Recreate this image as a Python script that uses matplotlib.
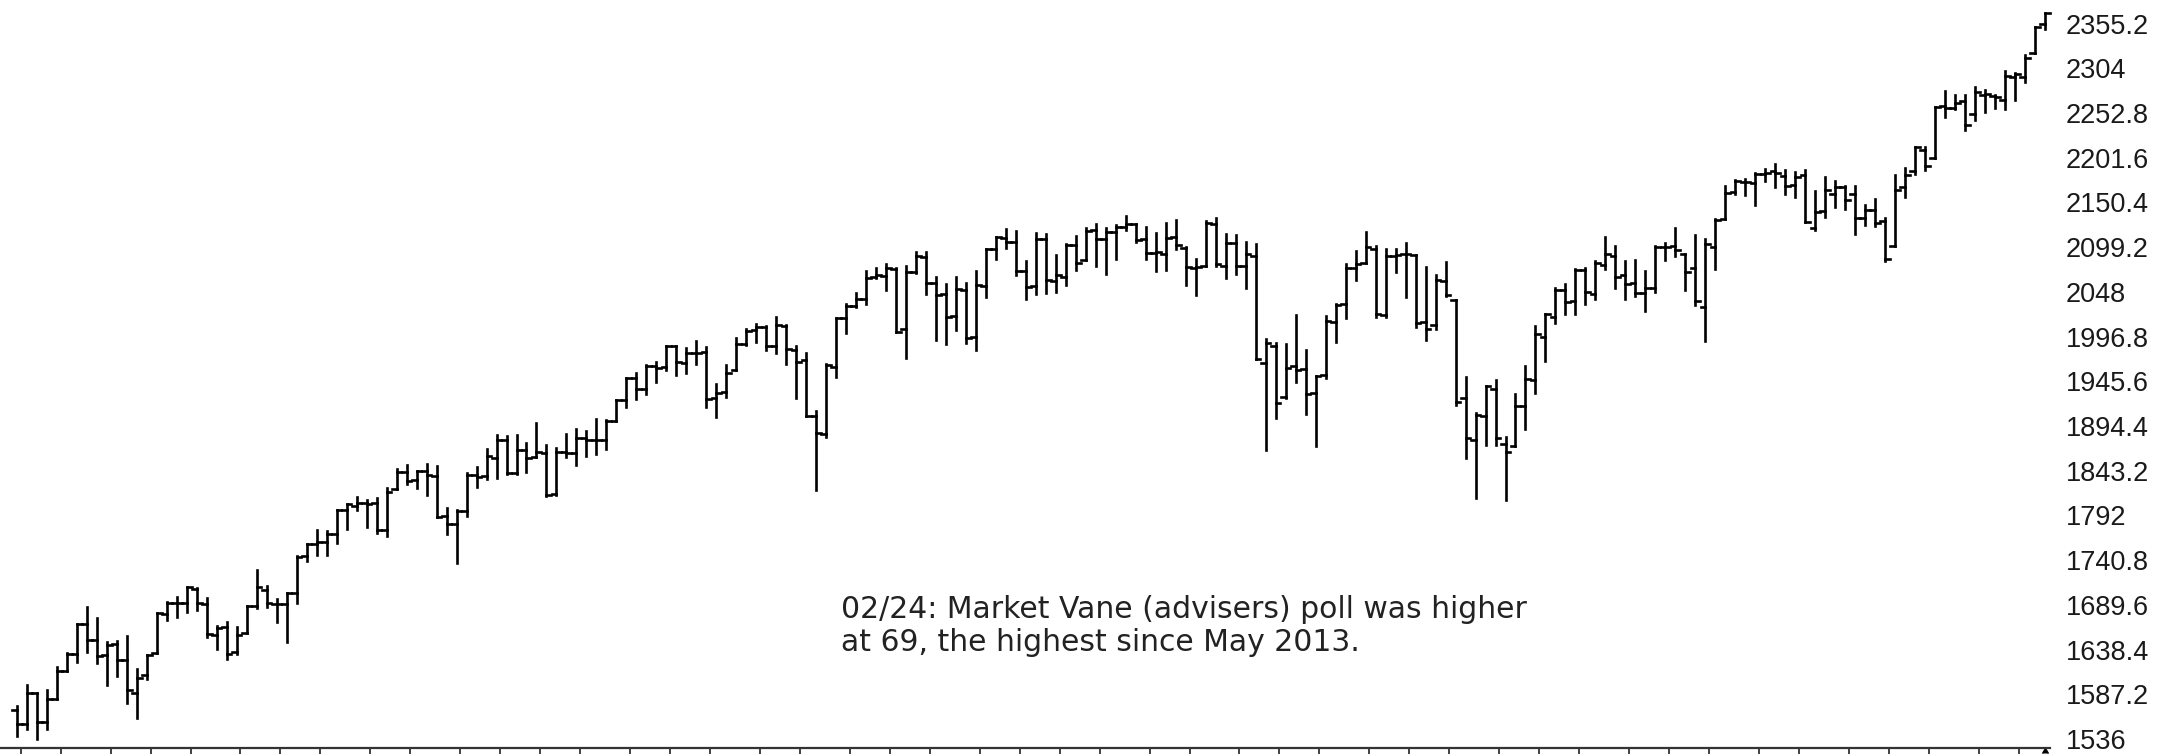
import matplotlib
matplotlib.use("Agg")
import matplotlib.pyplot as plt
from matplotlib.collections import LineCollection
import numpy as np
import pandas as pd

# Weekly S&P 500 bars (week ending Friday), first week ending 2013-04-05
start_week = "2013-04-05"
opens = [
 1569.2,1553.3,1588.8,1555.3,1582.3,1614.4,1633.7,1667.5,1649.6,1631.7,
 1644.7,1626.7,1588.8,1609.8,1634.2,1679.6,1692.1,1691.7,1708.0,1690.7,
 1655.3,1664.3,1636.0,1656.9,1688.0,1707.0,1691.0,1690.5,1703.2,1745.2,
 1759.8,1762.0,1770.6,1798.2,1803.0,1806.6,1806.0,1775.4,1822.0,1842.0,
 1832.0,1842.3,1837.0,1791.0,1782.7,1797.0,1838.6,1836.8,1857.7,1878.0,
 1841.1,1867.0,1859.0,1863.0,1816.0,1865.0,1863.0,1881.0,1878.5,1877.9,
 1900.5,1923.6,1949.4,1937.0,1962.9,1962.0,1985.4,1966.0,1978.2,1979.0,
 1926.0,1933.0,1958.0,1988.4,2004.0,2007.2,1986.0,2009.0,1981.0,1970.0,
 1905.7,1885.6,1962.0,2018.0,2032.0,2039.7,2065.0,2065.8,2074.0,2005.0,
 2071.0,2087.6,2058.0,2046.0,2020.0,2050.0,1996.7,2055.0,2097.0,2110.0,
 2105.0,2072.0,2055.0,2109.0,2060.0,2064.9,2102.0,2084.0,2119.0,2108.3,
 2116.0,2122.7,2125.3,2108.0,2092.3,2091.3,2110.6,2098.6,2075.3,2077.0,
 2126.0,2078.0,2104.0,2078.0,2089.0,1966.0,1986.0,1927.6,1963.0,1960.0,
 1932.2,1953.0,2014.0,2033.5,2075.0,2080.8,2097.0,2022.0,2089.0,2090.9,
 2090.4,2013.4,2010.3,2060.5,2038.2,1926.1,1878.9,1906.3,1936.9,1873.3,
 1871.4,1917.8,1947.0,1996.1,2019.3,2049.8,2037.9,2073.0,2045.5,2078.8,
 2089.4,2067.2,2057.6,2046.5,2052.2,2099.5,2100.0,2091.8,2075.6,2030.8,
 2099.3,2131.7,2162.0,2173.5,2173.0,2183.0,2186.0,2181.0,2170.2,2181.6,
 2120.9,2140.0,2160.0,2168.0,2160.4,2132.6,2142.0,2128.7,2100.6,2168.0,
 2186.4,2210.0,2200.7,2261.0,2259.0,2266.2,2251.6,2273.6,2272.0,2267.8,
 2294.3,2294.3,2321.7,2354.9]
highs = [
 1573.7,1597.4,1588.8,1592.6,1618.5,1635.0,1667.5,1687.2,1674.2,1646.5,
 1648.7,1654.2,1615.9,1631.9,1680.2,1693.1,1698.8,1709.9,1709.2,1697.0,
 1664.9,1669.5,1664.0,1688.0,1729.9,1711.0,1696.0,1703.3,1745.3,1759.8,
 1775.2,1774.0,1798.2,1804.8,1813.6,1810.0,1811.5,1823.8,1844.9,1849.4,
 1843.2,1850.8,1848.1,1800.0,1798.0,1840.8,1847.5,1867.9,1883.6,1883.0,
 1884.0,1875.0,1897.3,1872.5,1869.6,1884.9,1891.3,1889.0,1902.2,1901.3,
 1924.0,1949.4,1955.6,1963.9,1968.2,1985.6,1985.6,1983.5,1991.4,1984.9,
 1942.9,1964.0,1994.8,2005.0,2011.2,2008.5,2019.3,2009.5,1986.0,1977.8,
 1912.0,1965.3,2018.2,2034.3,2046.2,2071.5,2075.8,2079.5,2075.8,2077.9,
 2093.6,2093.6,2064.4,2056.9,2064.6,2057.6,2072.4,2097.0,2110.6,2119.6,
 2117.5,2083.5,2114.9,2114.0,2089.8,2102.6,2111.9,2120.9,2125.9,2120.5,
 2124.0,2134.7,2126.2,2121.9,2115.0,2126.7,2129.9,2099.0,2085.5,2129.5,
 2132.8,2114.2,2112.7,2105.3,2102.5,1993.5,1989.5,1988.6,2020.9,1980.9,
 1951.4,2020.0,2034.4,2079.7,2094.3,2116.5,2101.0,2097.0,2097.1,2104.3,
 2090.4,2076.7,2067.7,2081.6,2038.2,1950.3,1908.9,1940.2,1947.2,1881.6,
 1930.7,1963.0,2009.1,2022.4,2052.4,2056.6,2074.0,2075.1,2083.0,2111.1,
 2099.9,2083.4,2084.9,2071.9,2100.0,2103.5,2120.6,2091.8,2113.3,2108.7,
 2131.7,2169.1,2175.6,2177.1,2183.5,2188.5,2193.8,2187.9,2184.9,2187.9,
 2163.3,2180.0,2175.3,2169.6,2169.6,2147.0,2154.8,2133.0,2182.3,2189.9,
 2213.4,2214.1,2259.5,2277.5,2273.8,2273.0,2282.1,2279.3,2272.8,2301.0,
 2299.0,2319.2,2351.3,2367.8]
lows = [
 1539.5,1548.0,1536.0,1548.0,1581.3,1614.0,1623.7,1635.5,1622.7,1598.2,
 1608.1,1577.7,1560.3,1604.6,1634.2,1671.8,1676.0,1681.9,1684.0,1652.6,
 1639.4,1627.5,1633.4,1656.9,1686.0,1687.0,1670.4,1646.5,1692.0,1740.0,
 1746.5,1746.2,1760.0,1777.0,1798.0,1779.1,1772.3,1768.0,1822.0,1827.7,
 1823.7,1815.5,1790.3,1770.5,1737.9,1791.0,1824.6,1834.0,1834.4,1839.6,
 1839.0,1842.0,1859.0,1814.4,1815.0,1859.0,1849.4,1859.8,1862.4,1868.1,
 1900.5,1916.0,1925.8,1931.0,1944.7,1958.0,1952.9,1955.6,1965.0,1916.5,
 1904.8,1928.0,1958.0,1987.5,1990.0,1981.5,1978.5,1965.0,1926.0,1906.0,
 1820.7,1882.0,1951.0,2001.0,2030.2,2034.0,2064.0,2049.6,2002.3,1972.6,
 2069.0,2046.0,1992.4,1988.1,2004.5,1989.2,1980.9,2041.9,2085.4,2098.0,
 2067.3,2039.7,2045.0,2047.0,2048.0,2056.0,2072.5,2084.0,2077.0,2067.9,
 2085.5,2119.0,2104.5,2085.7,2072.1,2072.5,2097.0,2056.3,2044.0,2077.0,
 2077.0,2063.5,2067.9,2052.1,1970.9,1867.0,1903.1,1927.0,1944.5,1908.2,
 1871.9,1949.0,1990.0,2018.0,2062.0,2080.8,2019.4,2019.0,2070.5,2042.4,
 2008.0,1993.3,2005.9,2043.6,1918.5,1857.8,1812.3,1872.7,1872.8,1810.1,
 1871.4,1891.0,1931.8,1969.3,2012.4,2022.1,2022.5,2033.8,2039.7,2073.7,
 2052.3,2039.5,2043.0,2025.9,2047.3,2085.0,2089.0,2050.4,2032.6,1991.7,
 2074.0,2131.7,2159.5,2159.1,2147.6,2175.0,2168.5,2160.4,2157.1,2127.8,
 2119.1,2133.5,2145.0,2142.6,2114.7,2124.5,2123.0,2083.8,2100.0,2156.1,
 2183.0,2187.4,2200.7,2248.4,2257.0,2233.6,2245.1,2254.3,2258.4,2257.0,
 2267.2,2288.0,2321.7,2348.9]
closes = [
 1553.3,1588.9,1555.3,1582.2,1614.4,1633.7,1667.5,1649.6,1630.7,1643.4,
 1626.7,1592.4,1606.3,1631.9,1680.2,1692.1,1691.7,1709.7,1691.4,1655.8,
 1663.5,1633.0,1655.2,1688.0,1709.9,1691.8,1690.5,1703.2,1744.5,1759.8,
 1761.6,1770.6,1798.2,1804.8,1805.8,1805.1,1775.3,1818.3,1841.4,1831.4,
 1842.4,1838.7,1790.3,1782.6,1797.0,1838.6,1836.3,1859.5,1878.0,1841.1,
 1866.5,1857.6,1865.1,1815.7,1864.9,1863.4,1881.1,1878.5,1877.9,1900.5,
 1923.6,1949.4,1936.2,1962.9,1961.0,1985.4,1967.6,1978.2,1978.3,1925.2,
 1931.6,1955.1,1988.4,2003.4,2007.7,1985.5,2010.4,1982.9,1967.9,1906.1,
 1886.8,1964.6,2018.1,2031.9,2039.8,2063.5,2067.6,2075.4,2002.3,2070.7,
 2088.8,2058.2,2044.8,2019.4,2051.8,1995.0,2055.5,2097.0,2110.3,2104.5,
 2071.3,2053.4,2108.1,2061.0,2067.0,2102.1,2081.2,2117.7,2108.3,2116.1,
 2122.7,2126.1,2107.4,2092.8,2094.1,2110.0,2101.5,2076.8,2076.6,2126.6,
 2079.7,2103.8,2077.6,2091.5,1970.9,1988.9,1921.2,1961.1,1958.0,1931.3,
 1951.4,2014.9,2033.1,2075.2,2079.4,2099.2,2023.0,2089.2,2090.1,2091.7,
 2012.4,2005.6,2061.0,2043.9,1922.0,1880.3,1906.9,1940.2,1880.1,1864.8,
 1917.8,1948.1,2000.0,2022.2,2049.6,2035.9,2072.8,2047.6,2080.7,2091.6,
 2065.3,2057.1,2046.6,2052.3,2099.1,2099.1,2096.1,2071.2,2037.4,2103.0,
 2129.9,2161.7,2175.0,2173.6,2182.9,2184.1,2183.9,2169.0,2180.0,2127.8,
 2139.2,2164.7,2168.3,2153.7,2133.0,2141.2,2126.4,2085.2,2164.5,2181.9,
 2213.4,2192.0,2259.5,2258.1,2263.8,2238.8,2277.0,2274.6,2271.3,2294.7,
 2297.4,2316.1,2351.2,2367.3]

price_ticks = [1536 + 51.2 * k for k in range(17)]
note = ("02/24: Market Vane (advisers) poll was higher\n"
        "at 69, the highest since May 2013.")

W, H, DPI = 2168, 754, 100
fig = plt.figure(figsize=(W / DPI, H / DPI), dpi=DPI, facecolor="white")
# axes: left edge at 0, right edge at 2050 px, top at 0, bottom spine at 748 px
ax = fig.add_axes([0, 6 / H, 2050 / W, 748 / H])
ax.set_facecolor("white")

n = len(closes)
idx = np.arange(n)
segs = []
hw = 0.47
for i in range(n):
    segs.append([(idx[i], lows[i]), (idx[i], highs[i])])
    segs.append([(idx[i] - hw, opens[i]), (idx[i], opens[i])])
    segs.append([(idx[i], closes[i]), (idx[i] + hw, closes[i])])
lc = LineCollection(segs, colors="black", linewidths=1.9, capstyle="projecting",
                    clip_on=False)
ax.add_collection(lc)

# pixel mapping: bar 0 at x=17 px, spacing 9.99 px
ax.set_xlim(-17 / 9.99, (2050 - 17) / 9.99)
ppp = 0.8734  # px per point
ax.set_ylim(1536 - 9 / ppp, 1536 + 739 / ppp)

# monthly ticks on bottom axis
dates = pd.date_range(start_week, periods=n, freq="W-FRI")
months = dates.to_period("M")
first_idx = [i for i in range(n) if i == 0 or months[i] != months[i - 1]]
ax.set_xticks([i + 0.37 for i in first_idx])
ax.tick_params(axis="x", direction="out", length=5, width=1.3, colors="#333333",
               labelbottom=False)

# right-side price labels
ax.yaxis.tick_right()
ax.set_yticks(price_ticks)
ax.set_yticklabels([f"{round(v, 1):g}" for v in price_ticks])
ax.tick_params(axis="y", length=0, pad=11.5, labelsize=19.5, labelcolor="#1a1a1a")
for lab in ax.get_yticklabels():
    lab.set_fontfamily("Liberation Sans")

for s in ["top", "left", "right"]:
    ax.spines[s].set_visible(False)
ax.spines["bottom"].set_linewidth(1.6)
ax.spines["bottom"].set_color("#333333")

# marker for current bar
ax.plot([idx[-1]], [1536 - 9 / ppp], marker=6, color="black", markersize=5,
        clip_on=False)

ax.text(841 / 2050, 1 - 626 / 748, note, transform=ax.transAxes,
        ha="left", va="center", fontsize=21.5, family="DejaVu Sans",
        color="#222222", linespacing=1.2)

fig.savefig("out.png", dpi=DPI, facecolor="white")
